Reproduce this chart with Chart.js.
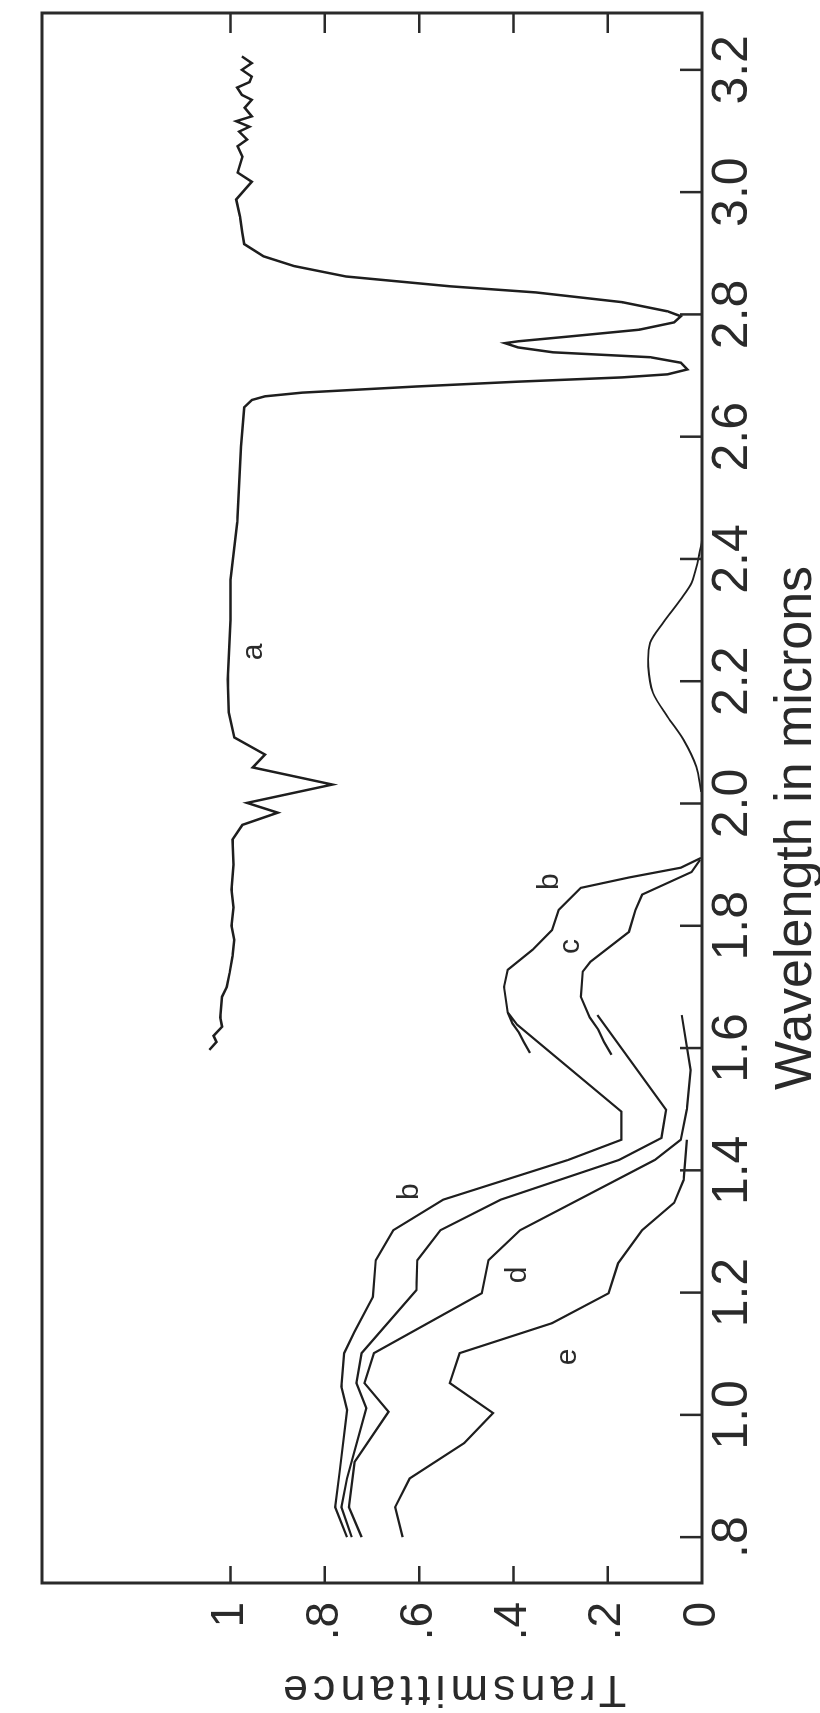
<!DOCTYPE html>
<html>
<head>
<meta charset="utf-8">
<title>Transmittance</title>
<script src="https://cdn.jsdelivr.net/npm/chart.js@4.4.1/dist/chart.umd.min.js"></script>
<style>
  html, body { margin: 0; padding: 0; background: #fff; overflow: hidden; }
  /* the figure is printed sideways, so the chart is drawn flat and turned */
  #wrap { position: absolute; left: 0; top: 1713px; width: 1713px; height: 820px;
          transform-origin: 0 0; transform: rotate(-90deg); }
</style>
</head>
<body>
<div id="wrap"><canvas id="spectra" width="1713" height="820"></canvas></div>
<script>
// wavelength in microns / transmittance
const aWave = [1.597,1.610,1.620,1.635,1.650,1.684,1.700,1.723,1.750,1.777,1.800,1.830,1.859,1.900,1.941,1.965,1.985,2.001,2.031,2.059,2.080,2.108,2.149,2.203,2.300,2.366,2.460,2.584,2.648,2.660,2.666,2.672,2.682,2.690,2.697,2.702,2.710,2.721,2.730,2.738,2.746,2.753,2.756,2.764,2.775,2.787,2.797,2.805,2.820,2.836,2.846,2.862,2.879,2.895,2.915,2.934,2.960,2.988,3.004,3.017,3.032,3.058,3.075,3.086,3.099,3.107,3.116,3.124,3.138,3.151,3.159,3.171,3.180,3.189,3.200,3.211,3.222];
const aTrans = [1.045,1.030,1.036,1.018,1.022,1.018,1.008,1.002,0.996,0.992,0.998,0.994,0.998,0.994,0.996,0.975,0.900,0.965,0.784,0.953,0.927,0.992,1.004,1.006,1.000,1.000,0.986,0.978,0.971,0.955,0.927,0.849,0.608,0.390,0.169,0.073,0.031,0.045,0.110,0.316,0.390,0.418,0.390,0.280,0.133,0.059,0.045,0.073,0.169,0.353,0.535,0.755,0.865,0.930,0.971,0.975,0.980,0.988,0.970,0.955,0.985,0.975,0.985,0.965,0.982,0.960,0.988,0.955,0.970,0.955,0.976,0.986,0.960,0.955,0.976,0.955,0.976];

const bumpWave = [2.019,2.060,2.104,2.142,2.181,2.224,2.263,2.296,2.334,2.361,2.399,2.430];
const bumpTrans = [0.002,0.012,0.039,0.073,0.104,0.114,0.110,0.082,0.045,0.022,0.008,0.000];

// null = pen lifted (the overlapping scanned piece near 1.6)
const bWave = [0.800,0.849,0.905,1.008,1.046,1.101,1.136,1.193,1.253,1.302,1.352,1.417,1.450,1.496,1.638,1.658,1.700,1.728,1.761,1.793,1.826,1.862,1.879,1.895,1.911,1.911,1.592,1.610,1.625,1.640,1.658];
const bTrans = [0.753,0.778,0.769,0.753,0.765,0.759,0.737,0.698,0.692,0.655,0.549,0.284,0.171,0.171,0.392,0.412,0.420,0.412,0.359,0.318,0.304,0.257,0.155,0.045,0.002,null,0.365,0.378,0.388,0.402,0.412];

const cWave = [0.800,0.849,0.896,1.011,1.052,1.101,1.204,1.253,1.302,1.352,1.417,1.453,1.499,1.654,1.654,1.589,1.610,1.630,1.650,1.684,1.725,1.741,1.790,1.826,1.851,1.888,1.908];
const cTrans = [0.743,0.765,0.753,0.712,0.733,0.722,0.606,0.604,0.555,0.427,0.176,0.086,0.076,0.222,null,0.192,0.208,0.220,0.238,0.257,0.253,0.237,0.155,0.141,0.127,0.022,0.004];

const dWave = [0.800,0.849,0.923,1.005,1.052,1.101,1.199,1.253,1.302,1.417,1.450,1.500,1.564,1.654];
const dTrans = [0.722,0.749,0.737,0.665,0.716,0.696,0.467,0.453,0.386,0.100,0.045,0.032,0.024,0.043];

const eWave = [0.800,0.849,0.896,0.954,1.003,1.052,1.101,1.150,1.199,1.248,1.302,1.347,1.384,1.450];
const eTrans = [0.635,0.651,0.620,0.504,0.443,0.535,0.514,0.318,0.198,0.178,0.127,0.059,0.039,0.032];

const waveTicks = [0.8,1.0,1.2,1.4,1.6,1.8,2.0,2.2,2.4,2.6,2.8,3.0,3.2];
const waveTickLabels = ['.8','1.0','1.2','1.4','1.6','1.8','2.0','2.2','2.4','2.6','2.8','3.0','3.2'];
const transTicks = [0,0.2,0.4,0.6,0.8,1];
const transTickLabels = ['0','.2','.4','.6','.8','1'];

const curveLabels = ['a','b','c','b','d','e'];
const curveLabelWave = [2.248,1.872,1.766,1.365,1.229,1.095];
const curveLabelTrans = [0.951,0.324,0.278,0.620,0.390,0.284];

const ink = '#1e1e1e';

function toPoints(wave, trans) {
    return wave.map((w, i) => ({ x: w, y: trans[i] }));
}

function curve(wave, trans, extra) {
    return Object.assign({
        data: toPoints(wave, trans),
        borderColor: ink,
        borderWidth: 2.2,
        pointRadius: 0,
        fill: false,
        spanGaps: false,
        tension: 0
    }, extra || {});
}

// frame with inward ticks, axis titles and curve letters
const framePlugin = {
    id: 'frame',
    afterDatasetsDraw(chart) {
        const ctx = chart.ctx;
        const area = chart.chartArea;
        const x = chart.scales.x;
        const y = chart.scales.y;
        ctx.save();
        ctx.strokeStyle = '#2a2a2a';
        ctx.lineWidth = 3;
        ctx.strokeRect(area.left, area.top, area.right - area.left, area.bottom - area.top);

        ctx.lineWidth = 2.5;
        ctx.beginPath();
        waveTicks.forEach(v => {
            const px = x.getPixelForValue(v);
            ctx.moveTo(px, area.bottom);
            ctx.lineTo(px, area.bottom - 22);
        });
        transTicks.slice(1).forEach(v => {
            const py = y.getPixelForValue(v);
            ctx.moveTo(area.left, py);
            ctx.lineTo(area.left + 17, py);
            ctx.moveTo(area.right, py);
            ctx.lineTo(area.right - 20, py);
        });
        ctx.stroke();

        ctx.fillStyle = '#2a2a2a';
        ctx.textAlign = 'center';
        ctx.textBaseline = 'alphabetic';
        ctx.font = '52px "Liberation Sans", Arial, sans-serif';
        ctx.fillText('Wavelength in microns', x.getPixelForValue(1.96), 811);

        ctx.save();
        ctx.translate(37, y.getPixelForValue(0.53));
        ctx.rotate(-Math.PI / 2);
        ctx.font = '45px "Liberation Sans", Arial, sans-serif';
        if ('letterSpacing' in ctx) ctx.letterSpacing = '5px';
        ctx.fillText('Transmittance', 0, 0);
        ctx.restore();

        ctx.font = '30px "Liberation Sans", Arial, sans-serif';
        ctx.textBaseline = 'middle';
        curveLabels.forEach((txt, i) => {
            ctx.fillText(txt, x.getPixelForValue(curveLabelWave[i]), y.getPixelForValue(curveLabelTrans[i]));
        });
        ctx.restore();
    }
};

new Chart(document.getElementById('spectra'), {
    type: 'line',
    data: {
        datasets: [
            curve(aWave, aTrans, { borderWidth: 2.5 }),
            curve(bumpWave, bumpTrans, { tension: 0.3, borderWidth: 1.8 }),
            curve(bWave, bTrans),
            curve(cWave, cTrans),
            curve(dWave, dTrans),
            curve(eWave, eTrans)
        ]
    },
    options: {
        responsive: false,
        animation: false,
        devicePixelRatio: 1,
        layout: { padding: { top: 12, right: 13, left: 0, bottom: 0 } },
        plugins: {
            legend: { display: false },
            tooltip: { enabled: false }
        },
        scales: {
            x: {
                type: 'linear',
                min: 0.725,
                max: 3.293,
                afterBuildTicks: s => { s.ticks = waveTicks.map(v => ({ value: v })); },
                afterFit: s => { s.height = 118; },
                grid: { display: false, drawTicks: false },
                border: { display: false },
                ticks: {
                    autoSkip: false,
                    maxRotation: 0,
                    minRotation: 0,
                    padding: 6,
                    color: '#2a2a2a',
                    font: { family: '"Liberation Sans", Arial, sans-serif', size: 50, lineHeight: 1 },
                    callback: (v, i) => waveTickLabels[i]
                }
            },
            y: {
                type: 'linear',
                min: 0,
                max: 1.4,
                afterBuildTicks: s => { s.ticks = transTicks.map(v => ({ value: v })); },
                afterFit: s => { s.width = 130; },
                grid: { display: false, drawTicks: false },
                border: { display: false },
                ticks: {
                    padding: 19,
                    color: '#2a2a2a',
                    font: { family: '"Liberation Sans", Arial, sans-serif', size: 46, lineHeight: 1 },
                    callback: (v, i) => transTickLabels[i]
                }
            }
        }
    },
    plugins: [framePlugin]
});
</script>
</body>
</html>
